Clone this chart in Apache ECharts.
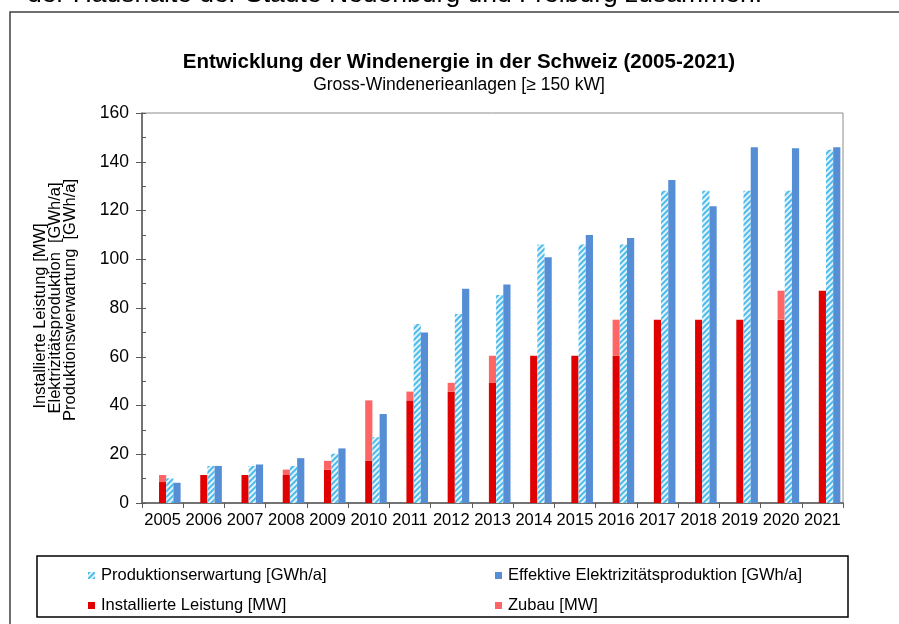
<!DOCTYPE html>
<html>
<head>
<meta charset="utf-8">
<script src="https://cdn.jsdelivr.net/npm/echarts@6/dist/echarts.min.js"></script>
<style>html,body{margin:0;padding:0;background:#fff}#c{width:899px;height:624px}</style>
</head>
<body>
<div id="c"></div>
<script>
const years = ['2005','2006','2007','2008','2009','2010','2011','2012','2013','2014','2015','2016','2017','2018','2019','2020','2021'];
const installiert = [8.6, 11.5, 11.5, 11.5, 13.7, 17.3, 42.1, 45.7, 49.3, 60.4, 60.4, 60.4, 75.2, 75.2, 75.2, 75.2, 87.1];
const zubau = [2.9, 0, 0, 2.2, 3.6, 24.8, 3.6, 3.6, 11.1, 0, 0, 14.8, 0, 0, 0, 11.9, 0];
const erwartung = [10.1, 15.2, 15.2, 15.2, 20.2, 27.0, 73.4, 77.5, 85.3, 106.1, 106.1, 106.1, 128.1, 128.1, 128.1, 128.1, 144.9];
const effektiv = [8.3, 15.2, 15.8, 18.4, 22.4, 36.5, 70.0, 87.9, 89.6, 100.8, 110.0, 108.7, 132.5, 121.7, 145.9, 145.5, 145.9];
const yTicks = [0, 20, 40, 60, 80, 100, 120, 140, 160];

const FF = 'Liberation Sans, Arial, sans-serif';
const names = ['Produktionserwartung [GWh/a]', 'Effektive Elektrizitätsproduktion [GWh/a]', 'Installierte Leistung [MW]', 'Zubau [MW]'];
const BW = 7.2;
const empty = years.map(() => null);

const chart = echarts.init(document.getElementById('c'), null, {renderer: 'canvas'});
const legendBase = {orient: 'horizontal', itemWidth: 7, itemHeight: 7, itemGap: 5,
  textStyle: {fontFamily: FF, fontSize: 16.5, color: '#000', padding: [0, 0, 0, 1]}, icon: 'rect', selectedMode: false};

chart.setOption({
  animation: false,
  backgroundColor: '#fff',
  grid: {left: 142, right: 56, top: 113, bottom: 121, show: true, borderColor: '#8c8c8c', borderWidth: 1, backgroundColor: 'transparent'},
  xAxis: {
    type: 'category', data: years,
    axisLine: {lineStyle: {color: '#595959', width: 1.5}},
    axisTick: {show: true, length: 5, lineStyle: {color: '#595959'}},
    axisLabel: {fontFamily: FF, fontSize: 16.5, color: '#000', margin: 9, interval: 0}
  },
  yAxis: [{
    type: 'value', min: yTicks[0], max: yTicks[yTicks.length - 1], interval: 20,
    axisLine: {show: true, lineStyle: {color: '#595959', width: 1.5}},
    axisTick: {show: true, length: 6, lineStyle: {color: '#595959'}},
    axisLabel: {fontFamily: FF, fontSize: 17.5, color: '#000', margin: 13},
    splitLine: {show: false}
  }, {
    type: 'value', position: 'left', min: 0, max: 160, interval: 10,
    axisLine: {show: false},
    axisTick: {show: true, inside: true, length: 4, lineStyle: {color: '#595959'}},
    axisLabel: {show: false},
    splitLine: {show: false}
  }],
  legend: [
    Object.assign({}, legendBase, {data: [names[0]], left: 83, top: 562}),
    Object.assign({}, legendBase, {data: [names[1]], left: 490, top: 562}),
    Object.assign({}, legendBase, {data: [names[2]], left: 83, top: 592}),
    Object.assign({}, legendBase, {data: [names[3]], left: 490, top: 592})
  ],
  series: [
    {type: 'bar', name: 'd1', data: empty, barWidth: BW, barGap: '0%'},
    {type: 'bar', name: 'd2', data: empty, barWidth: BW, barGap: '0%'},
    {type: 'bar', name: names[2], data: installiert, stack: 'mw', barWidth: BW, barGap: '0%',
      itemStyle: {color: '#e00000'}},
    {type: 'bar', name: names[3], data: zubau, stack: 'mw', barWidth: BW, barGap: '0%',
      itemStyle: {color: '#ff6565'}},
    {type: 'bar', name: names[0], data: erwartung, barWidth: BW, barGap: '0%',
      itemStyle: {color: '#e3f3fc', decal: {color: '#4dbbea', symbol: 'rect', symbolSize: 1, dashArrayX: [1, 0], dashArrayY: [1.5, 2], rotation: -Math.PI / 4}}},
    {type: 'bar', name: names[1], data: effektiv, barWidth: BW, barGap: '0%',
      itemStyle: {color: '#558ed5'}}
  ],
  graphic: [
    {type: 'polyline', shape: {points: [[10, 630], [10, 12], [905, 12]]}, style: {stroke: '#404040', lineWidth: 1.5, fill: null}, silent: true},
    {type: 'text', x: 27, y: 8, style: {text: 'der Haushalte der Städte Neuenburg und Freiburg zusammen.', font: '26.5px ' + FF, fill: '#000', verticalAlign: 'bottom'}},
    {type: 'text', x: 459, y: 62, style: {text: 'Entwicklung der Windenergie in der Schweiz (2005-2021)', font: 'bold 20.5px ' + FF, fill: '#000', align: 'center', verticalAlign: 'middle'}},
    {type: 'text', x: 459, y: 85, style: {text: 'Gross-Windenerieanlagen [≥ 150 kW]', font: '17.5px ' + FF, fill: '#000', align: 'center', verticalAlign: 'middle'}},
    {type: 'text', x: 40, y: 316, rotation: Math.PI / 2, style: {text: 'Installierte Leistung [MW]', font: '16.5px ' + FF, fill: '#000', align: 'center', verticalAlign: 'middle'}},
    {type: 'text', x: 55, y: 298, rotation: Math.PI / 2, style: {text: 'Elektrizitätsproduktion  [GWh/a]', font: '16.5px ' + FF, fill: '#000', align: 'center', verticalAlign: 'middle'}},
    {type: 'text', x: 70, y: 300, rotation: Math.PI / 2, style: {text: 'Produktionswerwartung  [GWh/a]', font: '16.5px ' + FF, fill: '#000', align: 'center', verticalAlign: 'middle'}},
    {type: 'rect', shape: {x: 37, y: 556, width: 811, height: 61}, style: {stroke: '#000', lineWidth: 1.5, fill: null}, silent: true}
  ]
});
</script>
</body>
</html>
